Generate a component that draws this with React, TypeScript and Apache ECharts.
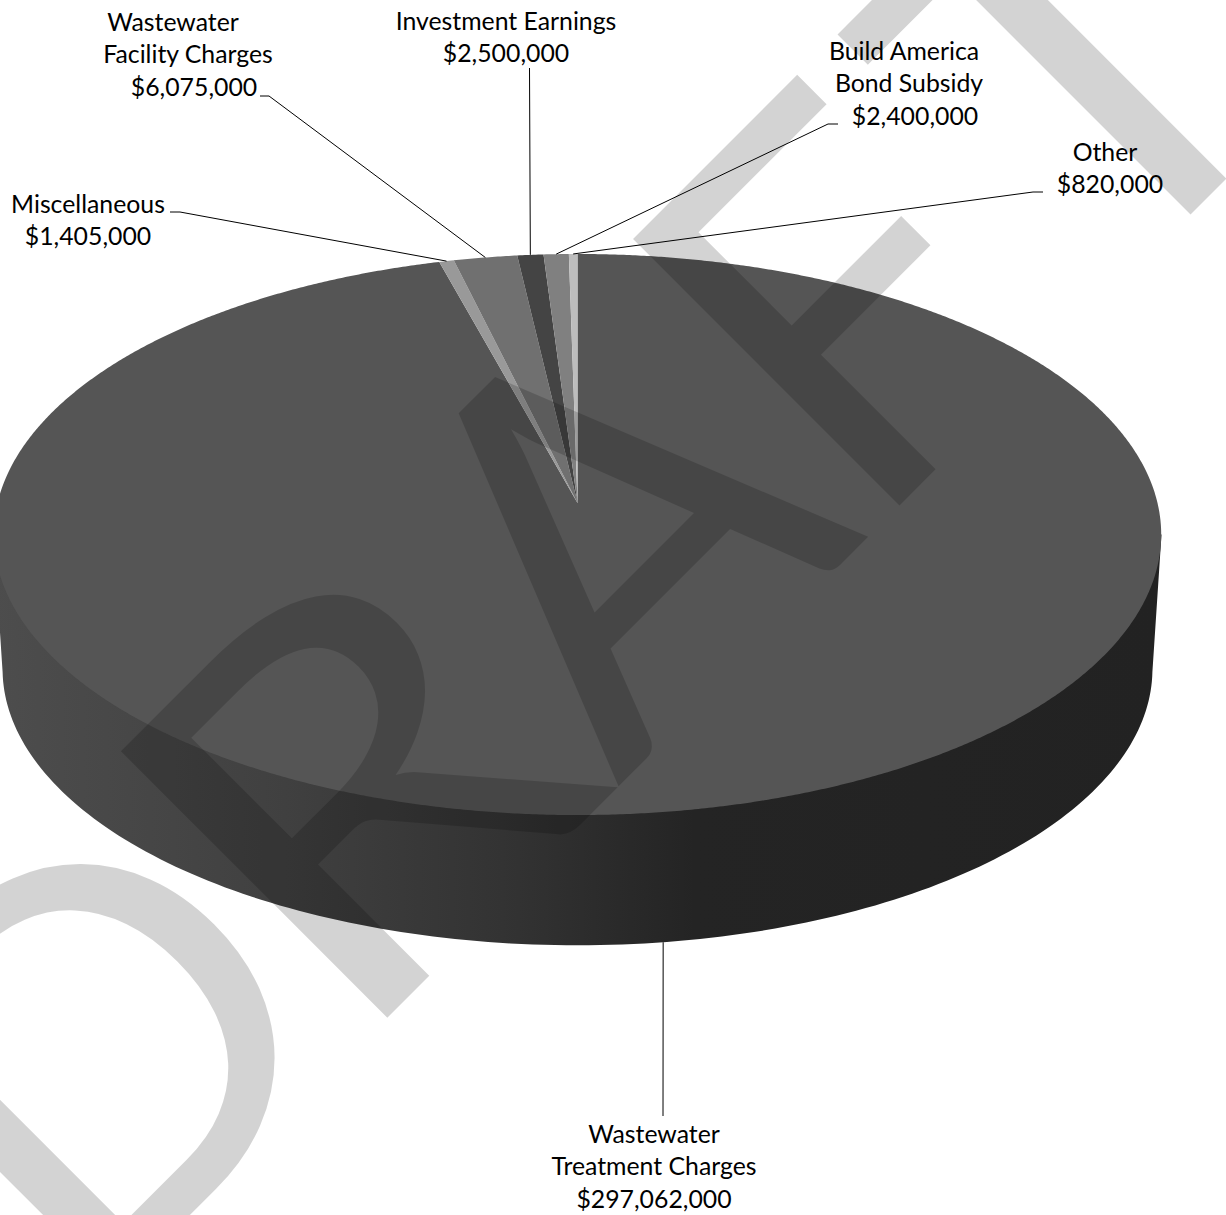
import React, { useEffect, useRef } from "react";
import * as echarts from "echarts";

// Revenue sources, clockwise from twelve o'clock
const categories = [
  "Wastewater\nTreatment Charges",
  "Miscellaneous",
  "Wastewater\nFacility Charges",
  "Investment Earnings",
  "Build America\nBond Subsidy",
  "Other",
];
const revenues = [297062000, 1405000, 6075000, 2500000, 2400000, 820000];

// Layout of the callouts, in pixels
const labelCentres = [
  [654, 654, 654],
  [88, 88],
  [173, 188, 194],
  [506, 506],
  [904, 909, 915],
  [1105, 1110],
];
const labelTops = [1133, 203, 21, 20, 50, 151];
const leaderElbows = [
  [[663, 1116]],
  [[170, 212], [180, 212]],
  [[260, 96], [269, 96]],
  [[529.5, 68]],
  [[838, 124], [828, 124]],
  [[1043, 192], [1033, 192]],
];

const faceColors = ["#555555", "#999999", "#707070", "#444444", "#808080", "#bdbdbd"];

// Perspective of the disc: a unit circle maps through a projective transform
const APEX_X = 577.5;
const APEX_Y = 503;
const PERSPECTIVE = 0.1123;
const SPREAD_X = 580;
const SPREAD_Y = 277;
const RIM_DROP = 134.5;
const RIM_SHRINK = 0.985;
const LINE_GAP = 32.5;

const project = (angle: number): [number, number] => {
  const u = Math.sin(angle);
  const v = -Math.cos(angle);
  const w = 1 - PERSPECTIVE * v;
  return [APEX_X + (SPREAD_X * u) / w, APEX_Y + (SPREAD_Y * v) / w];
};

const rimPoint = (angle: number): [number, number] => {
  const [x, y] = project(angle);
  const cy = (project(0)[1] + project(Math.PI)[1]) / 2;
  return [APEX_X + (x - APEX_X) * RIM_SHRINK, cy + RIM_DROP + (y - cy) * RIM_SHRINK];
};

const total = revenues.reduce((a, b) => a + b, 0);
const startAngles: number[] = [];
revenues.reduce((acc, r) => {
  startAngles.push((acc / total) * Math.PI * 2);
  return acc + r;
}, 0);

const formatMoney = (n: number) => "$" + n.toLocaleString("en-US");

const FONT = "Lato";
const BLACK = "#000000";

// Large rotated "DRAFT" stamp, letters set along one shared baseline
const stampLetters = ["D", "R", "A", "F", "T"];
const stampOffsets = [-1240, -710, -170, 326, 792];
const stampWidths = [1, 1.17, 1, 1, 1];
const STAMP_BASELINE = 1405;
const STAMP_SIZE = 526;
const STAMP_CENTRAL = 0.387;

const stampElements = stampLetters.map((letter, i) => {
  const p = stampOffsets[i];
  const bx = (STAMP_BASELINE + p) / 2;
  const by = (STAMP_BASELINE - p) / 2;
  const lift = (STAMP_SIZE * STAMP_CENTRAL) / Math.SQRT2;
  return {
    type: "text",
    x: bx - lift,
    y: by - lift,
    rotation: Math.PI / 4,
    scaleX: stampWidths[i],
    z: 50,
    silent: true,
    style: {
      text: letter,
      fontFamily: FONT,
      fontSize: STAMP_SIZE,
      fill: "rgba(0,0,0,0.1725)",
      textAlign: "left",
      textVerticalAlign: "middle",
    },
  };
});

const sliceElements = (params: any, api: any) => {
  const i = params.dataIndex;
  const value = api.value(0) as number;
  const a0 = startAngles[i];
  const a1 = a0 + (value / total) * Math.PI * 2;
  const mid = (a0 + a1) / 2;
  const children: any[] = [];

  if (i === 0) {
    // Visible wall: silhouette of the lower rim joined to the widest points of the face
    const pts: number[][] = [];
    const cy = (project(0)[1] + project(Math.PI)[1]) / 2;
    const n = 360;
    const rim: number[][] = [];
    for (let k = 0; k <= n; k++) rim.push(rimPoint((k / n) * Math.PI * 2));
    const lower = rim.filter((p) => p[1] >= cy + RIM_DROP);
    lower.sort((p, q) => q[0] - p[0]);
    pts.push([APEX_X + 584, cy]);
    lower.forEach((p) => pts.push(p));
    pts.push([APEX_X - 584, cy]);
    children.push({
      type: "polygon",
      shape: { points: pts },
      style: {
        fill: new echarts.graphic.LinearGradient(0, 0, 1, 0, [
          { offset: 0, color: "#4d4d4d" },
          { offset: 0.25, color: "#404040" },
          { offset: 0.45, color: "#323232" },
          { offset: 0.6, color: "#242424" },
          { offset: 1, color: "#222222" },
        ]),
      },
    });
  }

  const face: number[][] = [[APEX_X, APEX_Y]];
  const steps = Math.max(2, Math.ceil((a1 - a0) * 180));
  for (let k = 0; k <= steps; k++) face.push(project(a0 + ((a1 - a0) * k) / steps));
  children.push({
    type: "polygon",
    shape: { points: face },
    style: { fill: faceColors[i] },
  });

  // Leader from the callout to the edge of the slice at its middle angle
  const tip = i === 0 ? rimPoint(mid) : project(mid);
  const leader = [...leaderElbows[i], tip];
  children.push({
    type: "polyline",
    shape: { points: leader },
    style: { fill: "none", stroke: BLACK, lineWidth: 1 },
  });

  const lines = [...categories[i].split("\n"), formatMoney(value)];
  lines.forEach((line, k) => {
    children.push({
      type: "text",
      x: labelCentres[i][k],
      y: labelTops[i] + k * LINE_GAP,
      style: {
        text: line,
        fontFamily: FONT,
        fontSize: 24.8,
        fill: BLACK,
        textAlign: "center",
        textVerticalAlign: "middle",
      },
    });
  });

  return { type: "group", children };
};

export default function App() {
  const ref = useRef<HTMLDivElement>(null);
  useEffect(() => {
    document.body.style.margin = "0";
    const chart = echarts.init(ref.current!, undefined, { renderer: "svg" });
    chart.setOption({
      animation: false,
      backgroundColor: "#ffffff",
      graphic: { elements: stampElements },
      series: [
        {
          type: "custom",
          coordinateSystem: "none",
          silent: true,
          z: 2,
          data: revenues.map((r, i) => ({ name: categories[i], value: [r] })),
          renderItem: sliceElements,
        },
      ],
    });
    return () => chart.dispose();
  }, []);
  return <div ref={ref} style={{ width: 1226, height: 1215 }} />;
}
